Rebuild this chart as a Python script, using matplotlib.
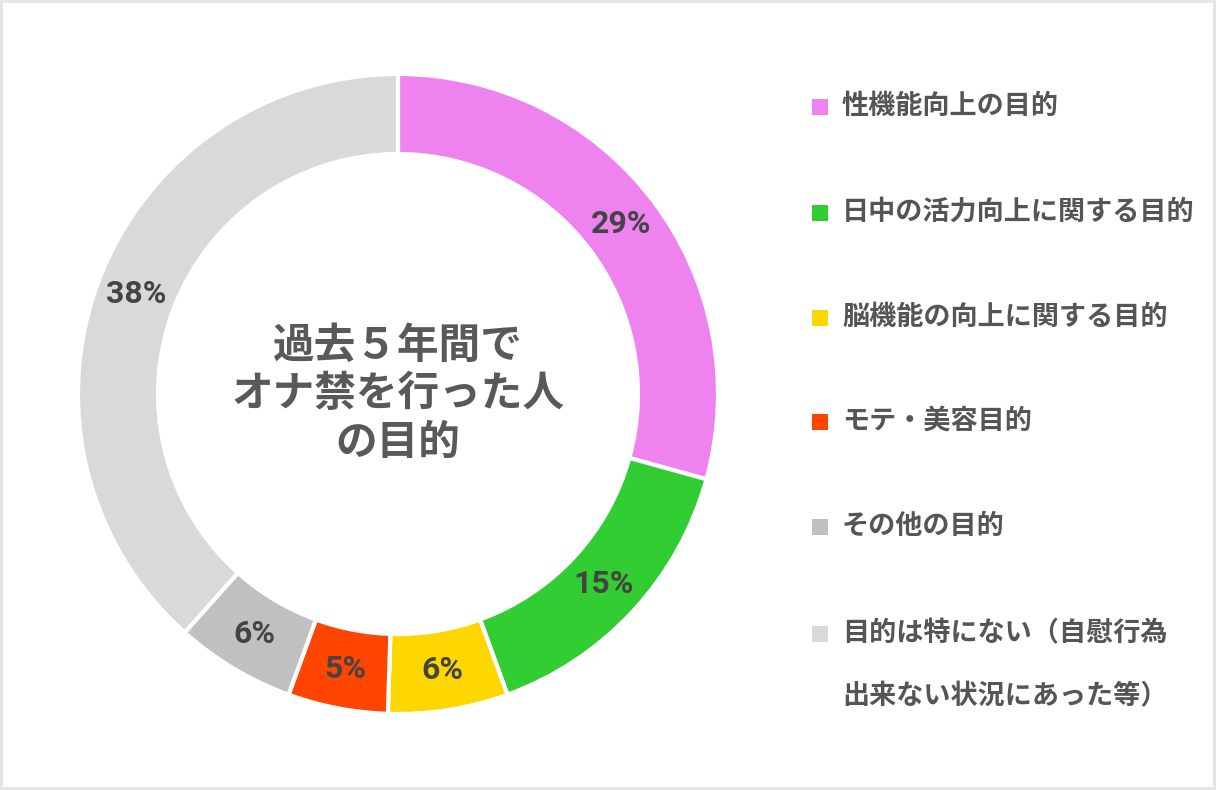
import matplotlib.pyplot as plt
from matplotlib.patches import Rectangle

plt.rcParams['font.family'] = ['Noto Sans CJK JP', 'DejaVu Sans']

# data
labels = ['性機能向上の目的', '日中の活力向上に関する目的', '脳機能の向上に関する目的',
          'モテ・美容目的', 'その他の目的', '目的は特にない（自慰行為\n出来ない状況にあった等）']
values = [29, 15, 6, 5, 6, 38]
colors = ['#EE82EE', '#32CD32', '#FFD700', '#FF4500', '#C0C0C0', '#D9D9D9']
center_title = '過去５年間で\nオナ禁を行った人\nの目的'

W, H = 1216, 790
fig = plt.figure(figsize=(W / 100, H / 100), dpi=100)
fig.patch.set_edgecolor('#e6e6e6')
fig.patch.set_linewidth(3)

# donut axes (pixel box of the ring)
ax = fig.add_axes([78 / W, 1 - 714 / H, 640 / W, 640 / H])
wedges, texts, autotexts = ax.pie(
    values, colors=colors, startangle=90, counterclock=False,
    radius=1, pctdistance=0.875,
    autopct=lambda p: '%d%%' % round(p),
    wedgeprops=dict(width=0.25, edgecolor='white', linewidth=3),
    textprops=dict(fontsize=23, fontweight='bold', color='#444444',
                   family=['Roboto', 'Noto Sans CJK JP']))
ax.set_xlim(-1, 1)
ax.set_ylim(-1, 1)
ax.set_aspect('equal')

ax.text(0, 0.0, center_title, ha='center', va='center', fontsize=30,
        fontweight='bold', color='#595959', linespacing=1.2)

# legend on the right
row_y = [107, 213, 318, 422, 527, 634]
for lab, col, y in zip(labels, colors, row_y):
    fig.add_artist(Rectangle((812 / W, 1 - (y + 8) / H), 16 / W, 16 / H,
                             transform=fig.transFigure, facecolor=col,
                             edgecolor='none'))
    fig.text(842 / W, 1 - (y - 15) / H, lab, ha='left', va='top',
             fontsize=19.5, fontweight='bold', color='#555555', linespacing=2.6)

fig.savefig('out.png', dpi=100, facecolor='white', edgecolor=fig.get_edgecolor())
